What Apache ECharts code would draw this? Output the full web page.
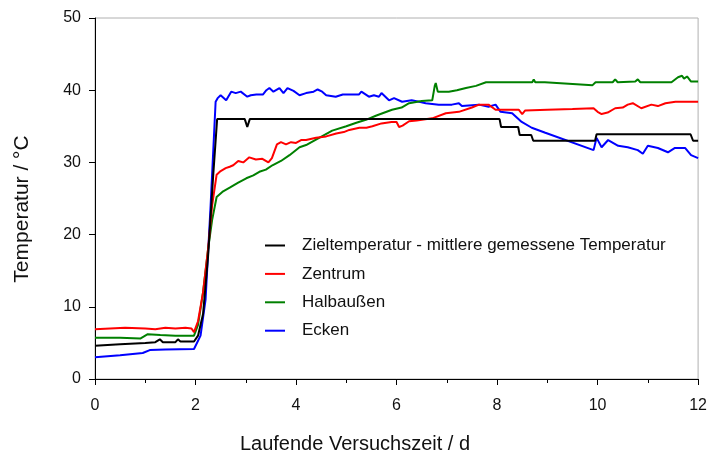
<!DOCTYPE html>
<html>
<head>
<meta charset="utf-8">
<title>Temperaturverlauf</title>
<script src="https://cdn.jsdelivr.net/npm/echarts@6/dist/echarts.min.js"></script>
<style>
  body { margin: 0; background: #fff; }
  #chart { width: 710px; height: 457px; }
</style>
</head>
<body>
<div id="chart"></div>
<script>
// series names (legend order)
const seriesNames = ['Zieltemperatur - mittlere gemessene Temperatur', 'Zentrum', 'Halbaußen', 'Ecken'];
const seriesColors = ['#000000', '#ff0000', '#008000', '#0000ff'];

// [time in d, temperature in °C]
const zielTemp = [[0,4.6],[0.5,4.8],[1.0,5.0],[1.2,5.1],[1.29,5.5],[1.35,5.1],[1.6,5.1],[1.65,5.5],[1.7,5.2],[1.97,5.2],[2.05,6],[2.15,9],[2.25,17],[2.35,28],[2.43,36],[2.98,36],[3.03,34.9],[3.08,36],[8.05,36],[8.08,34.9],[8.42,34.9],[8.45,33.8],[8.68,33.8],[8.72,33.0],[9.95,33.0],[9.98,33.9],[11.85,33.9],[11.9,33.0],[12,33.0]];

const zentrum = [[0,6.9],[0.3,7.0],[0.6,7.1],[1.0,7.0],[1.2,6.9],[1.4,7.1],[1.6,7.0],[1.8,7.1],[1.92,7.0],[1.97,6.5],[2.05,8],[2.15,12],[2.25,18],[2.33,24],[2.42,28.3],[2.5,28.8],[2.6,29.2],[2.68,29.4],[2.75,29.6],[2.85,30.2],[2.95,30.0],[3.07,30.7],[3.2,30.4],[3.33,30.5],[3.45,30.0],[3.52,30.6],[3.62,32.5],[3.7,32.8],[3.8,32.5],[3.9,32.8],[4.0,32.7],[4.1,33.1],[4.2,33.1],[4.4,33.4],[4.6,33.6],[4.8,34.0],[4.95,34.2],[5.06,34.5],[5.26,34.8],[5.4,34.8],[5.52,35.0],[5.7,35.4],[5.9,35.6],[6.0,35.6],[6.05,34.9],[6.12,35.1],[6.25,35.7],[6.4,35.8],[6.71,36.1],[6.98,36.8],[7.24,37.0],[7.5,37.6],[7.64,38.0],[7.83,38.0],[7.97,37.3],[8.43,37.3],[8.5,36.7],[8.56,37.2],[9.0,37.3],[9.5,37.4],[9.92,37.5],[10.0,37.0],[10.08,36.7],[10.2,36.9],[10.35,37.5],[10.5,37.6],[10.6,38.0],[10.7,38.2],[10.87,37.5],[11.07,38.0],[11.2,37.8],[11.35,38.2],[11.55,38.4],[12,38.4]];

const halbaussen = [[0,5.7],[0.5,5.7],[0.9,5.6],[1.05,6.2],[1.3,6.1],[1.6,6.0],[1.97,6.0],[2.05,7.5],[2.15,12],[2.25,18],[2.33,22],[2.42,25.2],[2.55,26],[2.68,26.5],[2.85,27.2],[3.01,27.8],[3.15,28.2],[3.27,28.7],[3.4,29.0],[3.53,29.6],[3.7,30.2],[3.87,31.0],[4.07,32.1],[4.2,32.4],[4.46,33.4],[4.72,34.4],[5.0,35.0],[5.2,35.5],[5.39,35.9],[5.6,36.5],[5.91,37.3],[6.1,37.6],[6.25,38.2],[6.5,38.5],[6.71,38.6],[6.76,40.6],[6.78,41.0],[6.82,39.8],[7.04,39.8],[7.2,40.0],[7.38,40.3],[7.58,40.6],[7.78,41.1],[8.7,41.1],[8.73,41.5],[8.76,41.1],[8.95,41.1],[9.9,40.7],[9.96,41.1],[10.3,41.1],[10.35,41.5],[10.4,41.1],[10.75,41.2],[10.8,41.5],[10.85,41.1],[11.47,41.1],[11.6,41.8],[11.68,42.0],[11.72,41.6],[11.78,41.9],[11.86,41.2],[12,41.2]];

const ecken = [[0,3.0],[0.5,3.3],[0.95,3.6],[1.09,4.0],[1.4,4.1],[1.97,4.15],[2.1,6],[2.2,11],[2.3,24],[2.4,38.4],[2.44,38.9],[2.5,39.3],[2.61,38.6],[2.71,39.8],[2.8,39.6],[2.9,39.8],[3.03,39.1],[3.1,39.3],[3.21,39.4],[3.34,39.4],[3.41,40.0],[3.47,40.3],[3.55,39.8],[3.67,40.3],[3.75,39.6],[3.83,40.3],[3.95,39.9],[4.07,39.3],[4.2,39.6],[4.35,39.8],[4.43,40.1],[4.52,39.8],[4.6,39.3],[4.79,39.1],[4.93,39.4],[5.25,39.4],[5.3,39.8],[5.45,39.1],[5.55,39.3],[5.65,39.1],[5.7,39.6],[5.85,38.6],[5.95,38.9],[6.11,38.4],[6.3,38.6],[6.45,38.4],[6.58,38.2],[6.84,38.0],[7.1,38.0],[7.24,38.2],[7.3,37.8],[7.64,38.0],[7.83,37.7],[7.97,38.0],[8.07,37.0],[8.3,36.8],[8.49,35.6],[8.69,34.8],[8.96,34.1],[9.92,31.7],[9.98,33.4],[10.08,32.1],[10.21,33.1],[10.41,32.3],[10.6,32.1],[10.8,31.7],[10.9,31.2],[11.0,32.3],[11.2,32.0],[11.4,31.4],[11.54,32.0],[11.74,32.0],[11.86,31.0],[12,30.6]];

const allData = [zielTemp, zentrum, halbaussen, ecken];

const FONT = '"Liberation Sans", Arial, sans-serif';

const chart = echarts.init(document.getElementById('chart'), null, { renderer: 'canvas' });

chart.setOption({
  animation: false,
  backgroundColor: '#fff',
  textStyle: { fontFamily: FONT },
  grid: {
    left: 95, right: 10, top: 18, bottom: 78,
    show: true, borderColor: '#b0b0b0', borderWidth: 1
  },
  legend: {
    orient: 'vertical',
    left: 260, top: 232,
    icon: 'rect',
    itemWidth: 20, itemHeight: 2, itemGap: 11.4,
    textStyle: { fontSize: 17, lineHeight: 17, color: '#111', fontFamily: FONT, padding: [0, 0, 0, 12] },
    data: seriesNames
  },
  xAxis: {
    type: 'value', min: 0, max: 12, interval: 2,
    axisLine: { lineStyle: { color: '#000', width: 1 } },
    axisTick: { inside: false, length: 6, lineStyle: { color: '#000' } },
    minorTick: { show: true, splitNumber: 2, length: 4, lineStyle: { color: '#000' } },
    splitLine: { show: false },
    axisLabel: { fontSize: 16, color: '#111', margin: 19, fontFamily: FONT }
  },
  yAxis: {
    type: 'value', min: 0, max: 50, interval: 10,
    axisLine: { show: true, lineStyle: { color: '#000', width: 1 } },
    axisTick: { show: true, inside: false, length: 6, lineStyle: { color: '#000' } },
    splitLine: { show: false },
    axisLabel: { fontSize: 16, color: '#111', margin: 14, fontFamily: FONT }
  },
  graphic: [
    {
      type: 'text', left: 'center', top: 434,
      x: -53,
      style: { text: 'Laufende Versuchszeit / d', fill: '#111', font: '20px ' + FONT }
    },
    {
      type: 'text', x: 22, y: 209, rotation: Math.PI / 2,
      style: { text: 'Temperatur / °C', fill: '#111', font: '21px ' + FONT, align: 'center', verticalAlign: 'middle' }
    }
  ],
  series: seriesNames.map((name, i) => ({
    name: name,
    type: 'line',
    data: allData[i],
    symbol: 'none',
    z: 10 - i,
    lineStyle: { color: seriesColors[i], width: 2 },
    itemStyle: { color: seriesColors[i] }
  }))
});
</script>
</body>
</html>
